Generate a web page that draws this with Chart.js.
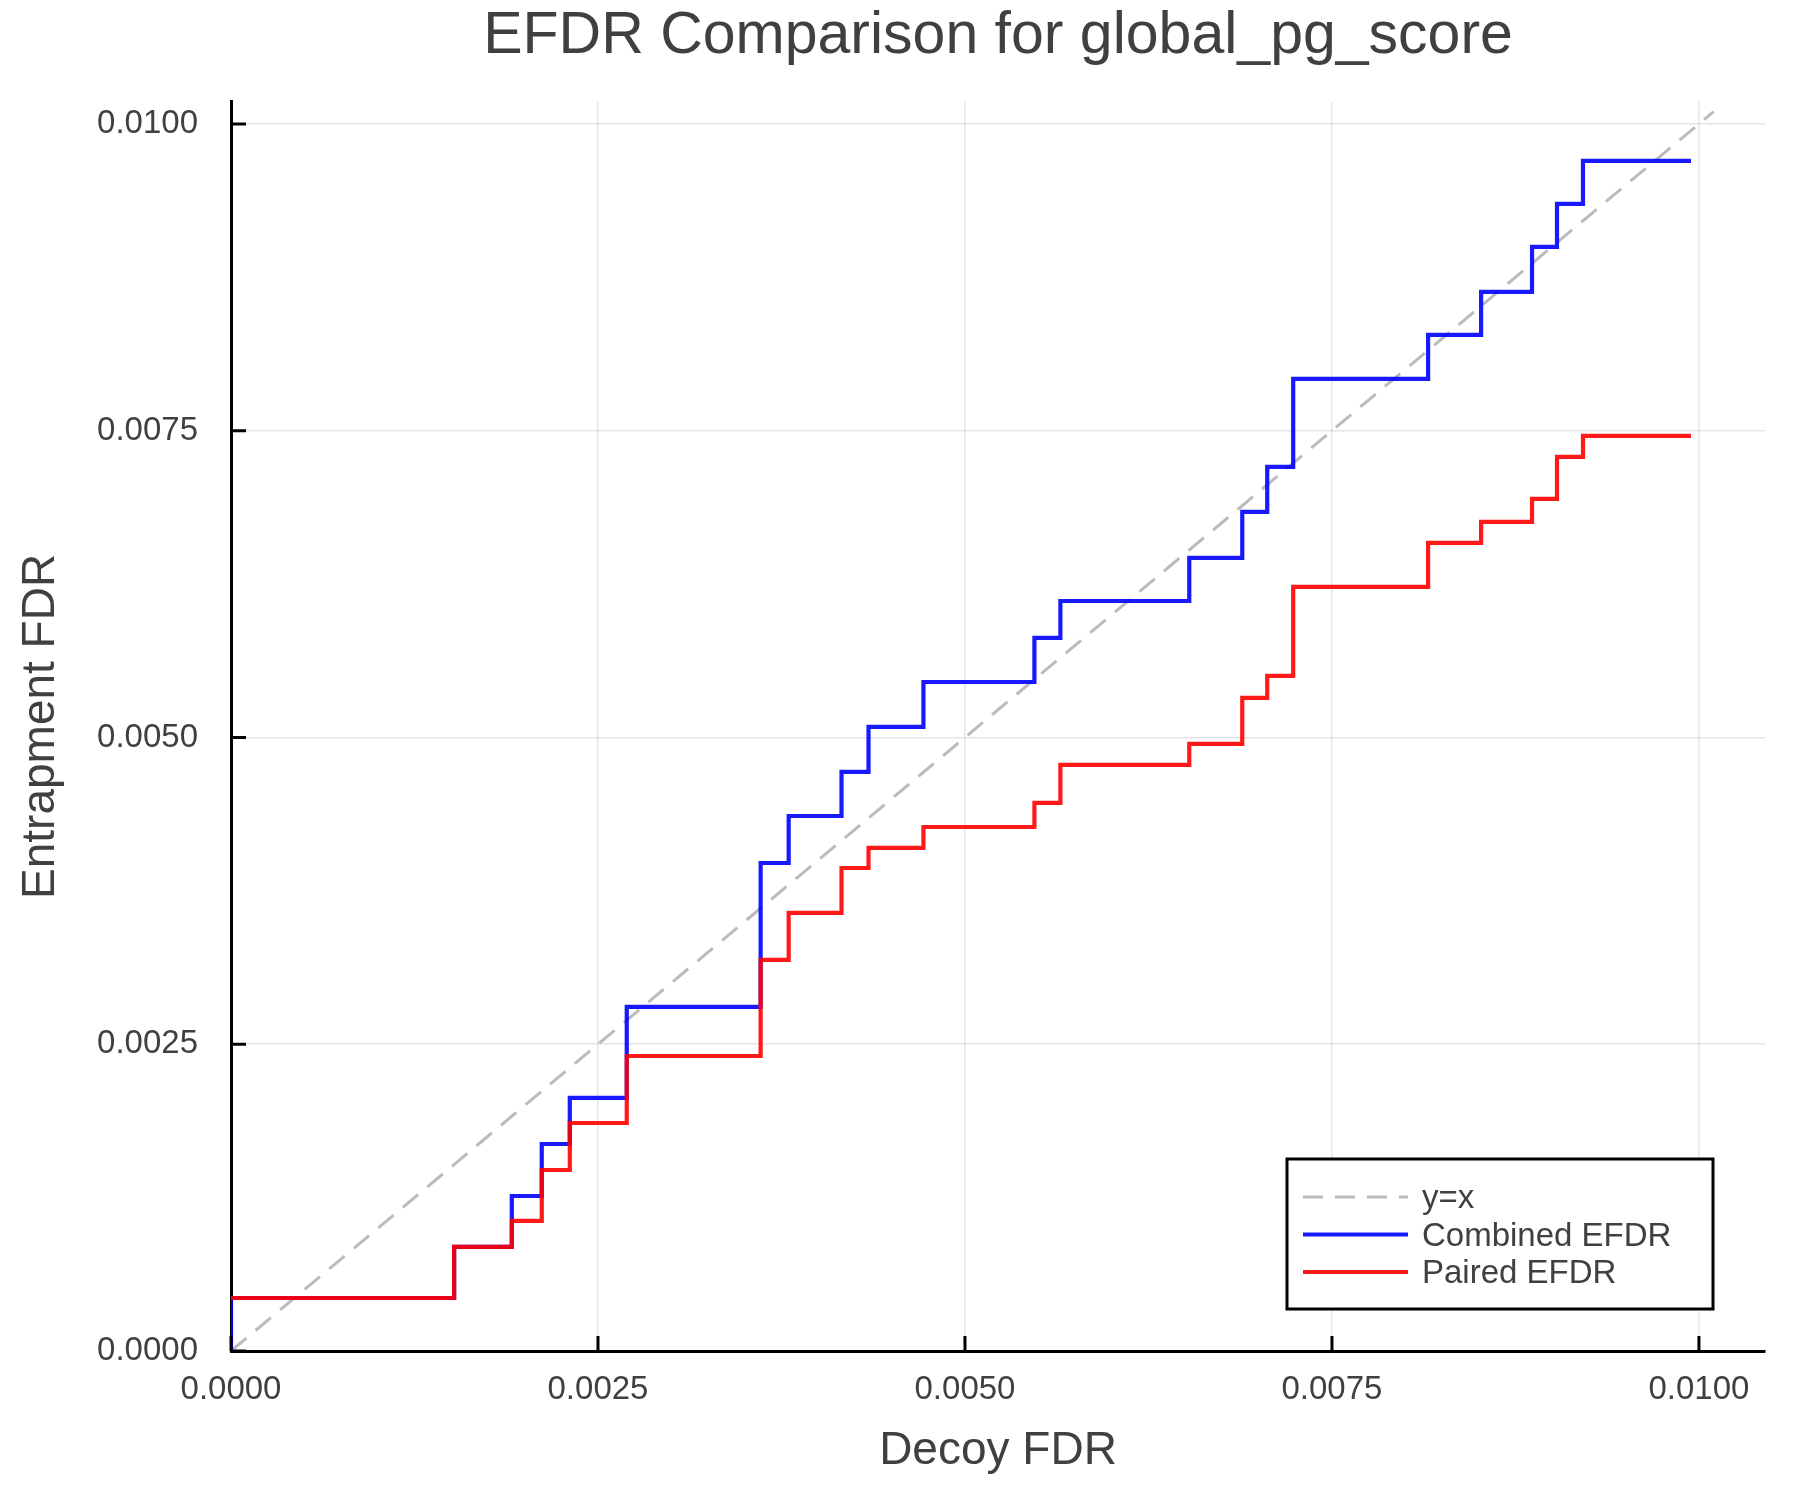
<!DOCTYPE html>
<html>
<head>
<meta charset="utf-8">
<title>EFDR Comparison for global_pg_score</title>
<script src="https://cdn.jsdelivr.net/npm/chart.js@4.4.1/dist/chart.umd.min.js"></script>
<style>
  html, body { margin: 0; padding: 0; background: #fff; }
  #wrap { width: 1800px; height: 1500px; position: relative; }
</style>
</head>
<body>
<div id="wrap"><canvas id="efdr"></canvas></div>
<script>
// Decoy FDR where each step happens (same for both curves)
const stepX = [0, 0.00152, 0.001913, 0.002117, 0.002308, 0.002696, 0.003608, 0.003799,
  0.004159, 0.004343, 0.004717, 0.005473, 0.00565, 0.006528, 0.006889, 0.007059,
  0.007236, 0.008155, 0.008516, 0.008863, 0.009033, 0.00921, 0.009946];

// Entrapment FDR after each step
const combinedEfdr = [0.000432, 0.000848, 0.001263, 0.001687, 0.002062, 0.002804, 0.003977,
  0.00436, 0.004719, 0.005086, 0.005452, 0.005811, 0.006112, 0.006463, 0.006838, 0.007205,
  0.007922, 0.00828, 0.008631, 0.008998, 0.009348, 0.009698, 0.009698];
const pairedEfdr = [0.000432, 0.000848, 0.00106, 0.001475, 0.001858, 0.002404, 0.003187,
  0.00357, 0.003936, 0.0041, 0.00427, 0.004466, 0.004776, 0.004947, 0.005322, 0.005501,
  0.006227, 0.006585, 0.006756, 0.006944, 0.007286, 0.007457, 0.007457];
const combinedStart = 0;

// y = x reference line
const diagonal = [0, 0.0101];

const tickValues = [0, 0.0025, 0.005, 0.0075, 0.01];
const xMax = 0.01045;
const yMax = 0.01018;

const textColor = "#404040";
const fontFamily = "'Liberation Sans', Arial, Helvetica, sans-serif";

function punkte(xs, ys) {
  return xs.map((x, i) => ({ x: x, y: ys[i] }));
}

// Ticks pointing into the plot, like the original
const icTicks = {
  id: "icTicks",
  afterDraw(chart) {
    const { ctx, chartArea, scales } = chart;
    ctx.save();
    ctx.strokeStyle = "#000";
    ctx.lineWidth = 3;
    ctx.beginPath();
    scales.x.ticks.forEach((t) => {
      const px = scales.x.getPixelForValue(t.value);
      ctx.moveTo(px, chartArea.bottom);
      ctx.lineTo(px, chartArea.bottom - 15);
    });
    scales.y.ticks.forEach((t) => {
      const py = scales.y.getPixelForValue(t.value);
      ctx.moveTo(chartArea.left, py);
      ctx.lineTo(chartArea.left + 15, py);
    });
    ctx.stroke();
    ctx.restore();
  },
};

// Legend box in the lower right corner of the plot
const legendBox = {
  id: "legendBox",
  afterDraw(chart) {
    const { ctx, chartArea } = chart;
    const w = 426;
    const h = 150;
    const x = chartArea.right - 52 - w;
    const y = chartArea.bottom - 42 - h;
    ctx.save();
    ctx.fillStyle = "#fff";
    ctx.fillRect(x, y, w, h);
    ctx.lineWidth = 3;
    ctx.strokeStyle = "#000";
    ctx.strokeRect(x, y, w, h);
    ctx.font = "33px " + fontFamily;
    ctx.textBaseline = "middle";
    chart.data.datasets.forEach((ds, i) => {
      const ly = y + 38 + i * 37.5;
      ctx.beginPath();
      ctx.strokeStyle = ds.borderColor;
      ctx.lineWidth = ds.borderWidth;
      ctx.setLineDash(ds.borderDash || []);
      ctx.moveTo(x + 16, ly);
      ctx.lineTo(x + 121, ly);
      ctx.stroke();
      ctx.setLineDash([]);
      ctx.fillStyle = textColor;
      ctx.fillText(ds.label, x + 135, ly + 2);
    });
    ctx.restore();
  },
};

Chart.defaults.font.family = fontFamily;
Chart.defaults.color = textColor;

const ctx = document.getElementById("efdr").getContext("2d");

new Chart(ctx, {
  type: "line",
  data: {
    datasets: [
      {
        label: "y=x",
        data: punkte(diagonal, diagonal),
        borderColor: "rgba(180,180,180,0.9)",
        borderWidth: 3,
        borderDash: [20, 12],
        pointRadius: 0,
        order: 3,
      },
      {
        label: "Combined EFDR",
        data: [{ x: 0, y: combinedStart }].concat(punkte(stepX, combinedEfdr)),
        borderColor: "rgba(0,0,255,0.9)",
        borderWidth: 4.2,
        stepped: "before",
        pointRadius: 0,
        order: 2,
      },
      {
        label: "Paired EFDR",
        data: punkte(stepX, pairedEfdr),
        borderColor: "rgba(255,0,0,0.9)",
        borderWidth: 4.2,
        stepped: "before",
        pointRadius: 0,
        order: 1,
      },
    ],
  },
  options: {
    responsive: true,
    maintainAspectRatio: false,
    animation: false,
    layout: { padding: { top: 0, right: 35, bottom: 0, left: 0 } },
    plugins: {
      legend: { display: false },
      tooltip: { enabled: false },
      title: {
        display: true,
        text: "EFDR Comparison for global_pg_score",
        fullSize: false,
        color: textColor,
        font: { size: 59, weight: "normal" },
        padding: { top: 1, bottom: 30 },
      },
    },
    scales: {
      x: {
        type: "linear",
        min: 0,
        max: xMax,
        afterBuildTicks: (s) => {
          s.ticks = tickValues.map((v) => ({ value: v }));
        },
        afterFit: (s) => {
          s.height = 149;
        },
        ticks: {
          padding: 19,
          font: { size: 33 },
          color: textColor,
          maxRotation: 0,
          callback: (v) => Number(v).toFixed(4),
        },
        grid: { color: "rgba(0,0,0,0.1)", lineWidth: 1.5, drawTicks: false },
        border: { display: true, color: "#000", width: 3 },
        title: {
          display: true,
          text: "Decoy FDR",
          color: textColor,
          font: { size: 46 },
          padding: { top: 0, bottom: 21 },
        },
      },
      y: {
        type: "linear",
        min: 0,
        max: yMax,
        afterBuildTicks: (s) => {
          s.ticks = tickValues.map((v) => ({ value: v }));
        },
        afterFit: (s) => {
          s.width = 231;
        },
        ticks: {
          padding: 33,
          font: { size: 33 },
          color: textColor,
          callback: (v) => Number(v).toFixed(4),
        },
        grid: { color: "rgba(0,0,0,0.1)", lineWidth: 1.5, drawTicks: false },
        border: { display: true, color: "#000", width: 3 },
        title: {
          display: true,
          text: "Entrapment FDR",
          color: textColor,
          font: { size: 46 },
          padding: { top: 14, bottom: 0 },
        },
      },
    },
  },
  plugins: [icTicks, legendBox],
});
</script>
</body>
</html>
